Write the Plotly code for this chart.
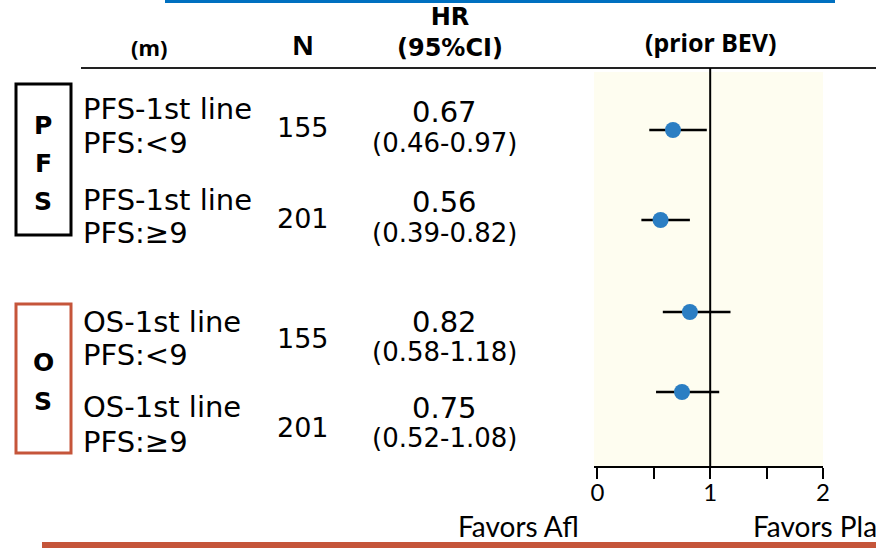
import plotly.graph_objects as go

# ---- data ----
endpoint_lines = ["PFS-1st line", "PFS-1st line", "OS-1st line", "OS-1st line"]
subgroup_lines = ["PFS:<9", "PFS:≥9", "PFS:<9", "PFS:≥9"]
n_patients = [155, 201, 155, 201]
hazard_ratio = [0.67, 0.56, 0.82, 0.75]
ci_low = [0.46, 0.39, 0.58, 0.52]
ci_high = [0.97, 0.82, 1.18, 1.08]
tick_values = [0, 0.5, 1, 1.5, 2]
tick_labels = ["0", "", "1", "", "2"]

# ---- layout (pixel coordinates on a 876 x 548 canvas) ----
W, H = 876, 548
PLOT_LEFT, PLOT_RIGHT, PLOT_TOP, PLOT_BOTTOM = 594, 823, 72, 466
marker_rows = [130, 220, 312, 392]
label_rows = [(109, 143), (200, 233), (322, 355), (407, 442)]
n_rows = [128, 218, 338, 427]
hr_rows = [(112, 143), (202, 233), (322, 352), (408, 438)]


def px(x):
    return x / W


def py(y):
    return 1 - y / H


fig = go.Figure()

fig.add_trace(go.Scatter(
    x=hazard_ratio,
    y=marker_rows,
    mode="markers",
    marker=dict(size=16, color="#2B7EC3"),
    error_x=dict(
        type="data",
        symmetric=False,
        array=[h - v for h, v in zip(ci_high, hazard_ratio)],
        arrayminus=[v - l for v, l in zip(hazard_ratio, ci_low)],
        color="black",
        thickness=2.5,
        width=0,
    ),
    showlegend=False,
    hoverinfo="skip",
))

annotations = []


def txt(text, x, y, size, family="DejaVu Sans", xanchor="center", bold=False, color="black"):
    if bold:
        text = f"<b>{text}</b>"
    annotations.append(dict(
        text=text, x=px(x), y=py(y), xref="paper", yref="paper",
        xanchor=xanchor, yanchor="middle", showarrow=False, borderpad=0,
        font=dict(family=family, size=size, color=color),
    ))


# column headers
txt("(m)", 149, 47, 22, family="Noto Sans", bold=True)
txt("N", 303, 45, 27, family="Noto Sans", bold=True)
txt("HR<br>(95%CI)", 450, 32, 24, family="DejaVu Sans", bold=True)
txt("(prior BEV)", 711, 42, 25, family="Noto Sans", bold=True)

# group boxes
for i, ch in enumerate("PFS"):
    txt(ch, 43, [125, 163, 202][i], 25, family="DejaVu Sans", bold=True)
for i, ch in enumerate("OS"):
    txt(ch, 43, [362, 401][i], 25, family="DejaVu Sans", bold=True)

# rows
for i in range(4):
    t, b = label_rows[i]
    txt(endpoint_lines[i], 82, t, 29, xanchor="left")
    txt(subgroup_lines[i], 82, b, 29, xanchor="left")
    txt(str(n_patients[i]), 303, n_rows[i], 27)
    vt, vb = hr_rows[i]
    txt(f"{hazard_ratio[i]:.2f}", 445, vt, 29)
    txt(f"({ci_low[i]:.2f}-{ci_high[i]:.2f})", 445, vb, 26)

# favours labels
txt("Favors Afl", 580, 526, 28, family="Lato", xanchor="right")
txt("Favors Pla", 752, 526, 28, family="Lato", xanchor="left")

shapes = [
    dict(type="rect", xref="paper", yref="paper", x0=px(165), x1=px(835), y0=py(3), y1=py(0),
         fillcolor="#0070C0", line=dict(width=0)),
    dict(type="rect", xref="paper", yref="paper", x0=px(42), x1=px(876), y0=py(548), y1=py(542),
         fillcolor="#C5553A", line=dict(width=0)),
    dict(type="line", xref="paper", yref="paper", x0=px(81), x1=px(876), y0=py(68), y1=py(68),
         line=dict(color="#222222", width=2)),
    dict(type="rect", xref="paper", yref="paper", x0=px(16), x1=px(71), y0=py(235), y1=py(84),
         line=dict(color="black", width=3)),
    dict(type="rect", xref="paper", yref="paper", x0=px(16), x1=px(71), y0=py(453), y1=py(304),
         line=dict(color="#C5553A", width=3)),
    dict(type="line", xref="x", yref="paper", x0=1, x1=1, y0=py(PLOT_BOTTOM), y1=py(68),
         line=dict(color="black", width=2)),
]

fig.update_layout(
    width=W, height=H, autosize=False,
    margin=dict(l=0, r=0, t=0, b=0, pad=0, autoexpand=False),
    paper_bgcolor="white",
    plot_bgcolor="#FEFDF0",
    annotations=annotations,
    shapes=shapes,
    xaxis=dict(
        domain=[px(PLOT_LEFT), px(PLOT_RIGHT)],
        range=[-0.03, 2.0],
        tickvals=tick_values,
        ticktext=tick_labels,
        ticks="outside", ticklen=11, tickwidth=2, tickcolor="black",
        ticklabelstandoff=-7,
        showline=True, linecolor="black", linewidth=2,
        showgrid=False, zeroline=False, automargin=False,
        tickfont=dict(family="Lato", size=24, color="black"),
        fixedrange=True,
    ),
    yaxis=dict(
        domain=[py(PLOT_BOTTOM), py(PLOT_TOP)],
        range=[PLOT_BOTTOM, PLOT_TOP],
        visible=False, automargin=False,
        showgrid=False, zeroline=False,
        fixedrange=True,
    ),
)

fig.write_html("out.html")
